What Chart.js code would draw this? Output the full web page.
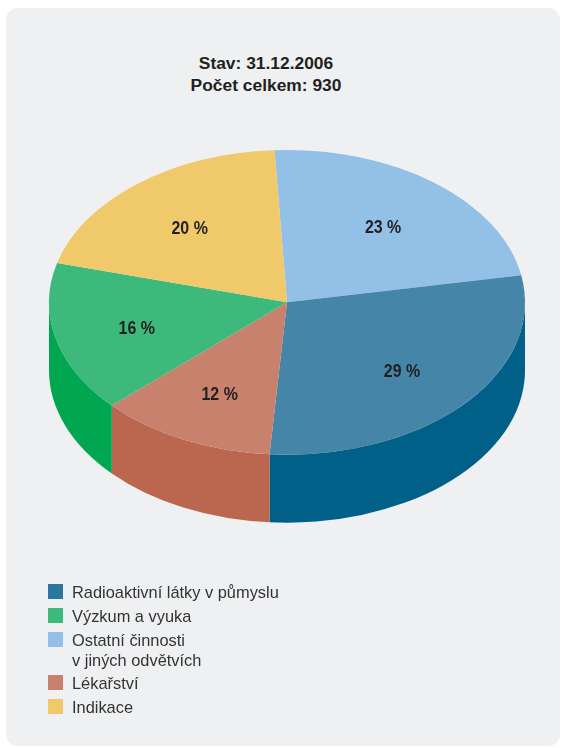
<!DOCTYPE html>
<html>
<head>
<meta charset="utf-8">
<script src="https://cdn.jsdelivr.net/npm/chart.js@4.4.1/dist/chart.umd.min.js"></script>
<style>
	html, body { margin: 0; padding: 0; background: #fff; }
	body { width: 562px; height: 748px; position: relative; overflow: hidden; font-family: "Liberation Sans", Arial, sans-serif; }
	#card { position: absolute; left: 6px; top: 8px; width: 554px; height: 738px; background: #eff0f2; border-radius: 12px; }
	#title { position: absolute; left: 0; top: 44px; width: 520px; text-align: center; font-weight: bold; font-size: 17.4px; line-height: 22px; color: #231f20; }
	#pie { position: absolute; left: 0; top: 0; }
	#legend { position: absolute; left: 42px; top: 574px; z-index: 2; }
	.item { display: flex; align-items: flex-start; margin-bottom: 3.8px; font-size: 16.4px; line-height: 20px; color: #333; }
	.box { width: 15px; height: 15px; margin-top: 2px; margin-right: 9px; flex: none; }
</style>
</head>
<body>
<div id="card">
	<div id="title">Stav: 31.12.2006<br>Počet celkem: 930</div>
	<canvas id="pie" width="554" height="620"></canvas>
	<div id="legend"></div>
</div>
<script>
// legend order
var categories = ['Radioaktivní látky v půmyslu', 'Výzkum a vyuka', 'Ostatní činnosti\nv jiných odvětvích', 'Lékařství', 'Indikace'];
var shares = [29, 16, 23, 12, 20];
var topColors = ['#4586a8', '#3dba7b', '#93c0e7', '#c8816c', '#f0c96a'];
var sideColors = ['#006088', '#00a650', '#6f9fcb', '#bb6750', '#d9ad4a'];
var legendColors = ['#2c789c', '#3dba7b', '#93c0e7', '#c8816c', '#f0c96a'];
// clockwise from the top of the pie
var pieOrder = [2, 0, 3, 1, 4];

var tilt = 0.64;
var depth = 68;

var legendEl = document.getElementById('legend');
categories.forEach(function(name, i) {
	var row = document.createElement('div');
	row.className = 'item';
	var box = document.createElement('div');
	box.className = 'box';
	box.style.background = legendColors[i];
	var txt = document.createElement('div');
	txt.innerHTML = name.replace('\n', '<br>');
	row.appendChild(box);
	row.appendChild(txt);
	legendEl.appendChild(row);
});

var pie3d = {
	id: 'pie3d',
	beforeDatasetsDraw: function(chart) {
		var ctx = chart.ctx;
		var arcs = chart.getDatasetMeta(0).data;
		var R = arcs[0].outerRadius, x0 = arcs[0].x, y0 = arcs[0].y;
		var cy = chart.chartArea.top + R * tilt;
		ctx.save();
		// front walls
		arcs.forEach(function(arc, i) {
			var idx = pieOrder[i];
			[-2 * Math.PI, 0, 2 * Math.PI].forEach(function(off) {
				var a = Math.max(arc.startAngle, off), b = Math.min(arc.endAngle, off + Math.PI);
				if (b <= a) return;
				ctx.beginPath();
				ctx.ellipse(x0, cy, R, R * tilt, 0, a, b);
				ctx.ellipse(x0, cy + depth, R, R * tilt, 0, b, a, true);
				ctx.closePath();
				ctx.fillStyle = sideColors[idx];
				ctx.fill();
			});
		});
		// squash the top face
		ctx.translate(x0, cy);
		ctx.scale(1, tilt);
		ctx.translate(-x0, -y0);
	},
	afterDatasetsDraw: function(chart) {
		var ctx = chart.ctx;
		ctx.restore();
		var arcs = chart.getDatasetMeta(0).data;
		var R = arcs[0].outerRadius, x0 = arcs[0].x;
		var cy = chart.chartArea.top + R * tilt;
		ctx.font = 'bold 19px "Liberation Sans", Arial, sans-serif';
		ctx.fillStyle = '#231f20';
		ctx.textAlign = 'center';
		ctx.textBaseline = 'middle';
		arcs.forEach(function(arc, i) {
			var m = (arc.startAngle + arc.endAngle) / 2;
			var r = R * 0.65;
			ctx.save();
			ctx.translate(x0 + r * Math.cos(m), cy + r * tilt * Math.sin(m) + 3);
			ctx.scale(0.84, 1);
			ctx.fillText(shares[pieOrder[i]] + ' %', 0, 0);
			ctx.restore();
		});
	}
};

new Chart(document.getElementById('pie'), {
	type: 'pie',
	data: {
		labels: pieOrder.map(function(i) { return categories[i]; }),
		datasets: [{
			data: pieOrder.map(function(i) { return shares[i]; }),
			backgroundColor: pieOrder.map(function(i) { return topColors[i]; }),
			borderWidth: 0,
			clip: false
		}]
	},
	options: {
		responsive: false,
		animation: false,
		rotation: -3,
		layout: { padding: { top: 142, left: 43, right: 35, bottom: 2 } },
		events: [],
		plugins: {
			legend: { display: false },
			tooltip: { enabled: false },
			title: { display: false }
		}
	},
	plugins: [pie3d]
});
</script>
</body>
</html>
